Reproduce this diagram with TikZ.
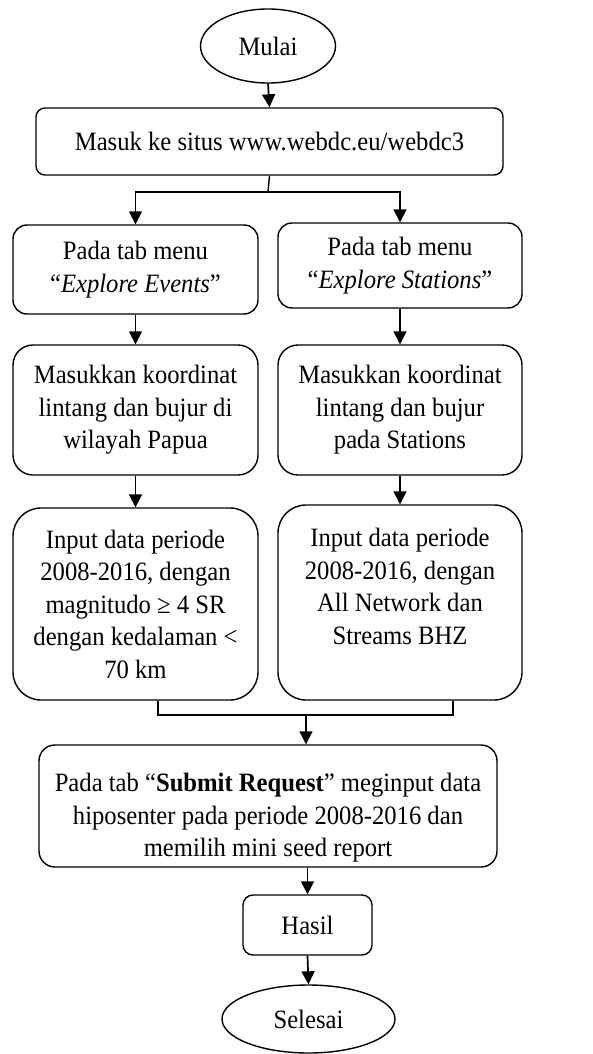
\documentclass[tikz,border=0pt]{standalone}
\usepackage{fontspec}
\setmainfont{Liberation Serif}[FakeStretch=0.93]
\usetikzlibrary{arrows.meta,shapes.geometric}
\begin{document}
\begin{tikzpicture}[x=1pt,y=-1pt,
  every node/.style={font=\fontsize{26.5}{32.5}\selectfont},
  term/.style={draw, ellipse, line width=1.4pt, inner sep=0pt},
  proc/.style={draw, rectangle, rounded corners=#1, line width=1.4pt, align=center, inner sep=0pt},
  arr/.style={line width=1.7pt, -{Triangle[length=13pt,width=13pt]}},
  ln/.style={line width=1.4pt}]
\useasboundingbox (0,0) rectangle (593,1054);

\node[term, minimum width=135pt, minimum height=74pt] (mulai) at (268,46) {Mulai};
\node[proc=9pt, minimum width=467pt, minimum height=67pt] (masuk) at (269.5,141.5) {Masuk ke situs www.webdc.eu/webdc3};
\node[proc=14pt, minimum width=245pt, minimum height=89pt] (ev) at (135.5,269.5) {Pada tab menu\\``\textit{Explore Events}''};
\node[proc=14pt, minimum width=244pt, minimum height=85pt] (st) at (400,265.5) {Pada tab menu\\``\textit{Explore Stations}''};
\node[proc=20pt, minimum width=245pt, minimum height=130pt] (k1) at (135.5,410) {Masukkan koordinat\\lintang dan bujur di\\wilayah Papua};
\node[proc=20pt, minimum width=244pt, minimum height=130pt] (k2) at (400,410) {Masukkan koordinat\\lintang dan bujur\\pada Stations};
\node[proc=28pt, minimum width=245pt, minimum height=192pt] (i1) at (135.5,604) {Input data periode\\2008-2016, dengan\\magnitudo ≥ 4 SR\\dengan kedalaman <\\70 km};
\node[proc=28pt, minimum width=244pt, minimum height=195pt] (i2) at (400,602.5) {Input data periode\\2008-2016, dengan\\All Network dan\\Streams BHZ\\\mbox{}};
\node[proc=16pt, minimum width=458pt, minimum height=122pt] (sub) at (268,806) {\rule{0pt}{42pt}Pada tab ``\textbf{Submit Request}'' meginput data\\hiposenter pada periode 2008-2016 dan\\memilih mini seed report};
\node[proc=10pt, minimum width=129pt, minimum height=60pt] (hasil) at (307.5,925) {Hasil};
\node[term, minimum width=173pt, minimum height=68pt] (selesai) at (308.5,1019) {Selesai};

\coordinate (sp) at (268,192);
\coordinate (ml) at (158,715);
\coordinate (mr) at (453,715);
\coordinate (mm) at (306,715);

\draw[arr] (mulai.south) -- (masuk.north);
\draw[ln] (masuk.south) -- (sp);
\draw[arr] (sp) -| (ev.north);
\draw[arr] (sp) -| (st.north);
\draw[arr] (ev.south) -- (k1.north);
\draw[arr] (st.south) -- (k2.north);
\draw[arr] (k1.south) -- (i1.north);
\draw[arr] (k2.south) -- (i2.north);
\draw[ln] (ml |- i1.south) -- (ml) -- (mr) -- (mr |- i2.south);
\draw[arr] (mm) -- (mm |- sub.north);
\draw[arr] (hasil.north |- sub.south) -- (hasil.north);
\draw[arr] (hasil.south) -- (selesai.north);
\end{tikzpicture}
\end{document}
